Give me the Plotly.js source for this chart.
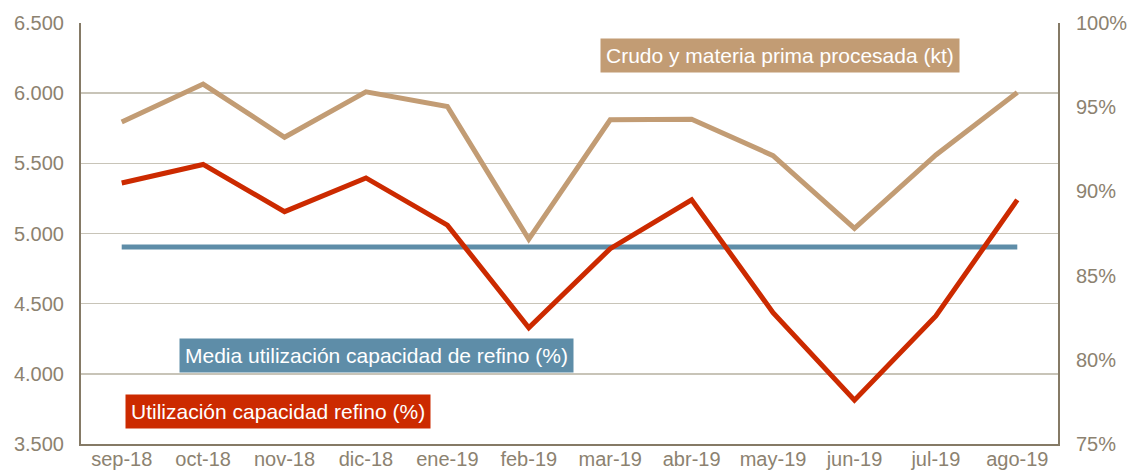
<!DOCTYPE html>
<html>
<head>
<meta charset="utf-8">
<script src="https://cdn.plot.ly/plotly-3.0.1.min.js"></script>
<style>html,body{margin:0;padding:0;background:#fff;}#chart{width:1129px;height:472px;}</style>
</head>
<body>
<div id="chart"></div>
<script>
const months = ["sep-18","oct-18","nov-18","dic-18","ene-19","feb-19","mar-19","abr-19","may-19","jun-19","jul-19","ago-19"];
const crudoKt = [5795, 6065, 5686, 6010, 5905, 4959, 5810, 5815, 5555, 5037, 5560, 6005];
const utilizacionPct = [90.5, 91.6, 88.8, 90.8, 88.0, 81.9, 86.6, 89.5, 82.8, 77.6, 82.6, 89.5];
const mediaPct = [86.7, 86.7, 86.7, 86.7, 86.7, 86.7, 86.7, 86.7, 86.7, 86.7, 86.7, 86.7];
const leftTicks = [3500, 4000, 4500, 5000, 5500, 6000, 6500];
const leftTickText = ["3.500","4.000","4.500","5.000","5.500","6.000","6.500"];
const rightTicks = [75, 80, 85, 90, 95, 100];
const rightTickText = ["75%","80%","85%","90%","95%","100%"];

const tickFont = {family: "Liberation Sans, Arial, sans-serif", size: 20, color: "#8C8270"};
const axisColor = "#857A66";

const traces = [
  {x: months, y: mediaPct, yaxis: "y2", type: "scatter", mode: "lines",
   line: {color: "#5E8DA8", width: 5}, hoverinfo: "skip"},
  {x: months, y: crudoKt, type: "scatter", mode: "lines",
   line: {color: "#C29C74", width: 5}, hoverinfo: "skip"},
  {x: months, y: utilizacionPct, yaxis: "y2", type: "scatter", mode: "lines",
   line: {color: "#CC2A00", width: 5}, hoverinfo: "skip"}
];

const annFont = {family: "Liberation Sans, Arial, sans-serif", size: 21, color: "#ffffff"};
const layout = {
  width: 1129, height: 472,
  margin: {l: 81, r: 71, t: 23, b: 28},
  paper_bgcolor: "#ffffff", plot_bgcolor: "#ffffff",
  showlegend: false,
  xaxis: {
    type: "category", range: [-0.5, 11.5], showgrid: false, zeroline: false,
    showline: true, linecolor: axisColor, linewidth: 2, ticks: "",
    tickfont: tickFont, ticklabelstandoff: -4, fixedrange: true
  },
  yaxis: {
    range: [3500, 6500], tickvals: leftTicks, ticktext: leftTickText,
    showgrid: true, gridcolor: "#C8C4B8", gridwidth: 1.5, zeroline: false,
    showline: true, linecolor: axisColor, linewidth: 2, ticks: "",
    tickfont: tickFont, ticklabelstandoff: 11, fixedrange: true
  },
  yaxis2: {
    overlaying: "y", side: "right", range: [75, 100],
    tickvals: rightTicks, ticktext: rightTickText,
    showgrid: false, zeroline: false,
    showline: true, linecolor: axisColor, linewidth: 2, ticks: "",
    tickfont: tickFont, ticklabelstandoff: 12, fixedrange: true
  },
  annotations: [
    {xref: "paper", yref: "paper", x: (600-81)/977, y: (444-55)/421, xanchor: "left", yanchor: "middle",
     text: "Crudo y materia prima procesada (kt)", showarrow: false, font: annFont,
     bgcolor: "#C29C74", borderpad: 5},
    {xref: "paper", yref: "paper", x: (179-81)/977, y: (444-355)/421, xanchor: "left", yanchor: "middle",
     text: "Media utilización capacidad de refino (%)", showarrow: false, font: annFont,
     bgcolor: "#5E8DA8", borderpad: 5},
    {xref: "paper", yref: "paper", x: (125-81)/977, y: (444-411)/421, xanchor: "left", yanchor: "middle",
     text: "Utilización capacidad refino (%)", showarrow: false, font: annFont,
     bgcolor: "#CC2A00", borderpad: 5}
  ]
};
Plotly.newPlot("chart", traces, layout, {displayModeBar: false, staticPlot: true});
</script>
</body>
</html>
